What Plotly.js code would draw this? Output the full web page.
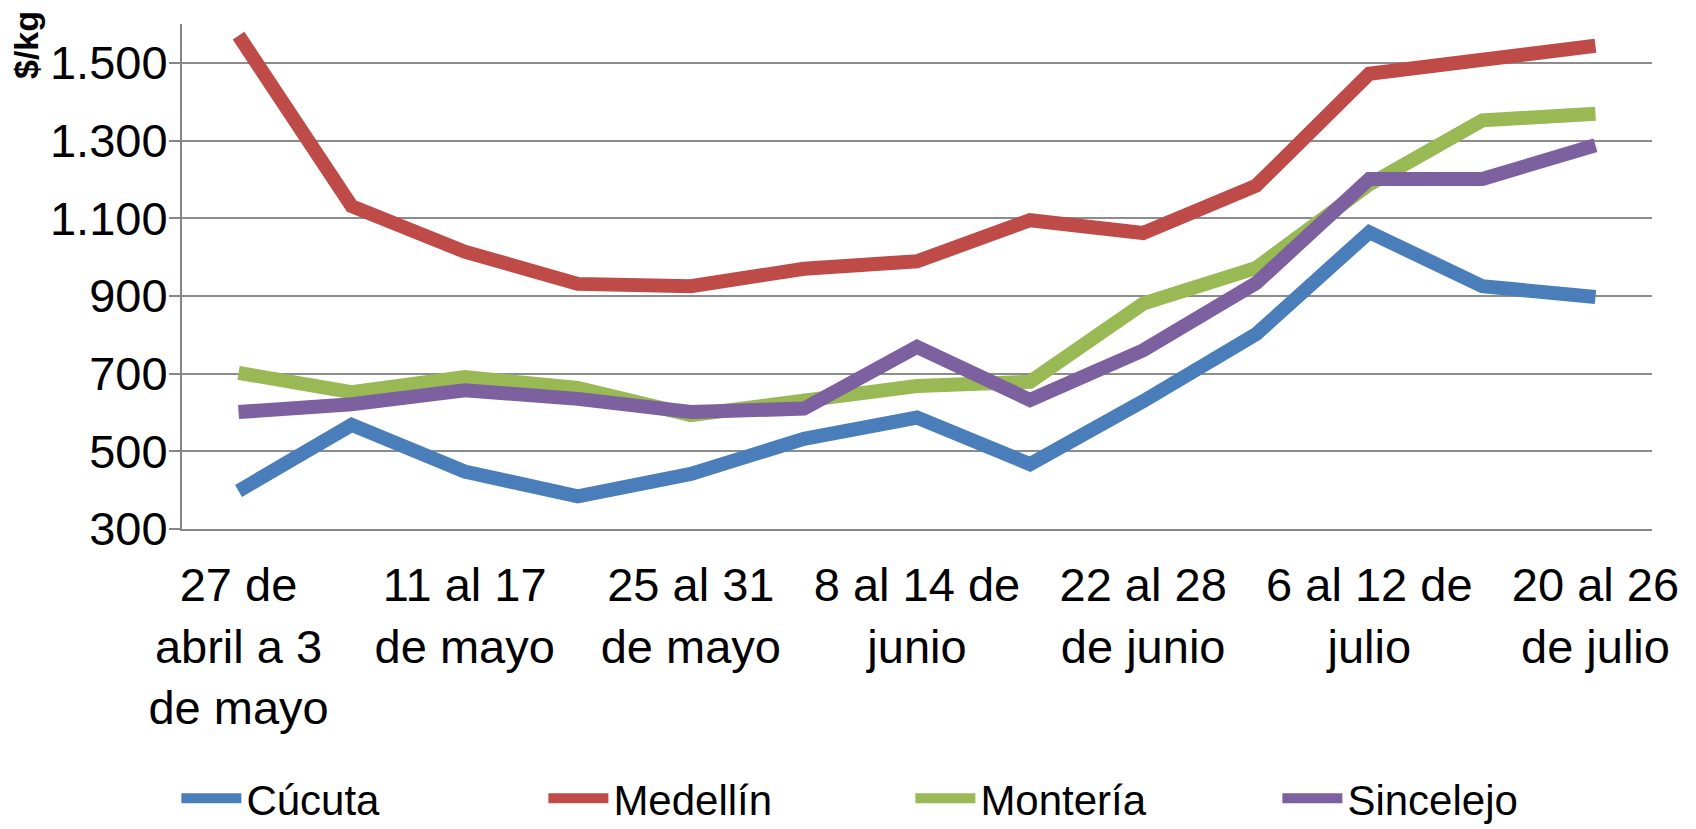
<!DOCTYPE html>
<html>
<head>
<meta charset="utf-8">
<script src="https://cdn.plot.ly/plotly-3.0.1.min.js"></script>
<style>html,body{margin:0;padding:0;background:#fff;}#chart{width:1696px;height:829px;}</style>
</head>
<body>
<div id="chart"></div>
<script>
const categories = [
  "27 de abril a 3 de mayo", "4 al 10 de mayo", "11 al 17 de mayo", "18 al 24 de mayo",
  "25 al 31 de mayo", "1 al 7 de junio", "8 al 14 de junio", "15 al 21 de junio",
  "22 al 28 de junio", "29 de junio a 5 de julio", "6 al 12 de julio", "13 al 19 de julio",
  "20 al 26 de julio"
];
const tickCategories = [
  "27 de abril a 3 de mayo", "11 al 17 de mayo", "25 al 31 de mayo", "8 al 14 de junio",
  "22 al 28 de junio", "6 al 12 de julio", "20 al 26 de julio"
];
const tickLabels = [
  "27 de<br>abril a 3<br>de mayo", "11 al 17<br>de mayo", "25 al 31<br>de mayo",
  "8 al 14 de<br>junio", "22 al 28<br>de junio", "6 al 12 de<br>julio", "20 al 26<br>de julio"
];
const seriesNames = ["Cúcuta", "Medellín", "Montería", "Sincelejo"];
const cucuta    = [398, 568, 448, 384, 442, 532, 587, 467, 629, 802, 1064, 925, 897];
const medellin  = [1570, 1131, 1014, 931, 925, 970, 989, 1095, 1062, 1184, 1472, 1508, 1544];
const monteria  = [702, 652, 691, 663, 593, 629, 668, 679, 880, 972, 1187, 1352, 1369];
const sincelejo = [601, 621, 657, 635, 601, 610, 769, 632, 760, 933, 1201, 1201, 1288];
const seriesColors = ["#4A7EBB", "#BE4B48", "#98B954", "#7D60A0"];

const allValues = [cucuta, medellin, monteria, sincelejo];
const traces = allValues.map((vals, i) => ({
  type: "scatter",
  mode: "lines",
  name: seriesNames[i],
  x: categories,
  y: vals,
  line: {color: seriesColors[i], width: 14},
  hoverinfo: "x+y+name"
}));

const layout = {
  width: 1696,
  height: 829,
  margin: {l: 182, r: 44, t: 24, b: 300, pad: 0},
  paper_bgcolor: "#ffffff",
  plot_bgcolor: "#ffffff",
  separators: ",.",
  font: {family: "Liberation Sans, Arial, sans-serif", color: "#000000", size: 40},
  showlegend: true,
  legend: {
    orientation: "h",
    xref: "container",
    yref: "container",
    x: 0.104,
    xanchor: "left",
    y: 0.037,
    yanchor: "middle",
    font: {size: 42, family: "Liberation Sans, Arial, sans-serif", color: "#000"},
    entrywidth: 292,
    entrywidthmode: "pixels",
    itemwidth: 60,
    tracegroupgap: 0,
    borderwidth: 0,
    bgcolor: "rgba(0,0,0,0)"
  },
  xaxis: {
    type: "category",
    categoryorder: "array",
    categoryarray: categories,
    range: [-0.5, 12.5],
    tickmode: "array",
    tickvals: tickCategories,
    ticktext: tickLabels,
    tickangle: 0,
    ticks: "",
    showgrid: false,
    showline: true,
    linecolor: "#868686",
    linewidth: 2,
    zeroline: false,
    automargin: false,
    ticklabelstandoff: 14,
    tickfont: {size: 47, family: "Liberation Sans, Arial, sans-serif", color: "#000"}
  },
  yaxis: {
    range: [300, 1600],
    tick0: 300,
    dtick: 200,
    tickformat: ",d",
    showgrid: true,
    gridcolor: "#8c8c8c",
    gridwidth: 2,
    showline: true,
    linecolor: "#868686",
    linewidth: 2,
    ticks: "outside",
    ticklen: 11,
    tickwidth: 2,
    tickcolor: "#868686",
    zeroline: false,
    automargin: false,
    ticklabelstandoff: -8,
    tickfont: {size: 47, family: "Liberation Sans, Arial, sans-serif", color: "#000"}
  },
  annotations: [{
    text: "<b>$/kg</b>",
    xref: "paper", yref: "paper",
    x: -0.106, y: 1.03,
    xanchor: "center", yanchor: "top",
    textangle: -90,
    showarrow: false,
    font: {size: 34, family: "Liberation Sans, Arial, sans-serif", color: "#000"}
  }]
};

Plotly.newPlot("chart", traces, layout, {displayModeBar: false, responsive: false});
</script>
</body>
</html>
